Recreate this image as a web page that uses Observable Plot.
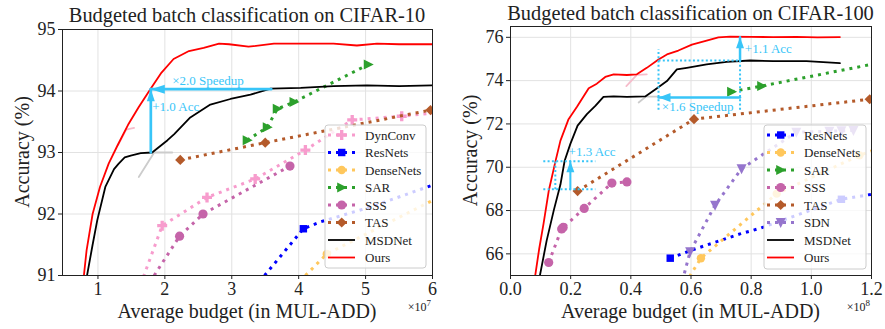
<!DOCTYPE html>
<html><head><meta charset="utf-8">
<script src="https://cdn.jsdelivr.net/npm/d3@7"></script>
<script src="https://cdn.jsdelivr.net/npm/@observablehq/plot@0.6"></script>
<style>
body{margin:0;background:#fff}
#wrap{display:flex;width:885px;height:329px;overflow:hidden}
svg{display:block}
</style></head><body><div id="wrap"></div>
<script>
// ---------------- CIFAR-10 (x in units of 1e7 MUL-ADD) ----------------
const c10Title = "Budgeted batch classification on CIFAR-10";
const c10XTicks = [1, 2, 3, 4, 5, 6];
const c10YTicks = [91, 92, 93, 94, 95];
const c10Legend = ["DynConv", "ResNets", "DenseNets", "SAR", "SSS", "TAS", "MSDNet", "Ours"];
const c10Ours = [[0.78,90.9],[0.83,91.41],[0.92,92.0],[1.03,92.44],[1.16,92.82],[1.29,93.11],[1.45,93.45],[1.61,93.74],[1.79,94.04],[1.95,94.3],[2.13,94.52],[2.36,94.65],[2.58,94.70],[2.81,94.77],[2.96,94.76],[3.25,94.72],[3.63,94.77],[4.0,94.77],[4.52,94.77],[4.87,94.74],[5.17,94.77],[5.5,94.76],[6.0,94.76]];
const c10MSDNet = [[0.82,90.9],[0.92,91.5],[0.99,91.9],[1.11,92.44],[1.24,92.73],[1.31,92.82],[1.40,92.92],[1.49,92.95],[1.64,92.99],[1.81,93.0],[2.04,93.2],[2.14,93.30],[2.38,93.57],[2.68,93.78],[2.98,93.87],[3.28,93.94],[3.58,94.04],[4.03,94.05],[4.52,94.08],[5.02,94.09],[5.5,94.08],[6.0,94.09]];
const c10DynConvLine = [[1.68,90.98],[1.96,91.81],[2.63,92.27],[3.35,92.57],[4.10,93.04],[4.80,93.53],[5.54,93.59],[6.0,93.64]];
const c10DynConvPts = [[1.96,91.81],[2.63,92.27],[3.35,92.57],[4.10,93.04],[4.80,93.53],[5.54,93.59]];
const c10ResNetsLine = [[3.49,91.0],[4.07,91.76],[4.32,91.87],[5.12,92.13],[6.0,92.47]];
const c10ResNetsPts = [[4.07,91.76]];
const c10DenseNetsLine = [[4.1,91.0],[4.42,91.35],[6.0,92.22]];
const c10DenseNetsPts = [[4.42,91.35]];
const c10SAR = [[3.23,93.20],[3.53,93.41],[3.68,93.71],[3.93,93.82],[5.04,94.43]];
const c10SSSLine = [[1.84,91.0],[2.22,91.64],[2.57,92.0],[3.87,92.78]];
const c10SSSPts = [[2.22,91.64],[2.57,92.0],[3.87,92.78]];
const c10TAS = [[2.23,92.88],[3.50,93.16],[5.97,93.69]];
const c10GrayMark = [[1.61,92.6],[1.84,93.0],[2.11,93.0]];
const c10PinkMark = [[1.30,93.12],[1.42,93.37],[1.54,93.40]];
const c10SpeedArrow = [[3.59,94.03],[1.79,94.03]];
const c10AccArrow = [[1.79,93.0],[1.79,94.03]];
const c10Notes = [{x: 2.11, y: 94.16, t: "×2.0 Speedup"}, {x: 1.81, y: 93.75, t: "+1.0 Acc"}];

// ---------------- CIFAR-100 (x in units of 1e8 MUL-ADD) ----------------
const c100Title = "Budgeted batch classification on CIFAR-100";
const c100XTicks = [0.0, 0.2, 0.4, 0.6, 0.8, 1.0, 1.2];
const c100YTicks = [66, 68, 70, 72, 74, 76];
const c100Legend = ["ResNets", "DenseNets", "SAR", "SSS", "TAS", "SDN", "MSDNet", "Ours"];
const c100Ours = [[0.08,64.8],[0.095,66.2],[0.11,67.41],[0.127,68.9],[0.149,70.25],[0.166,71.23],[0.193,72.22],[0.221,72.79],[0.26,73.65],[0.287,73.86],[0.315,74.17],[0.343,74.29],[0.387,74.26],[0.42,74.29],[0.453,74.59],[0.492,74.98],[0.52,75.21],[0.558,75.39],[0.603,75.66],[0.652,75.85],[0.691,76.0],[0.73,76.03],[0.8,76.02],[0.873,76.01],[0.95,76.02],[1.02,76.0],[1.095,76.01]];
const c100MSDNet = [[0.095,64.8],[0.12,66.6],[0.144,68.02],[0.166,69.2],[0.18,70.3],[0.199,71.08],[0.223,71.92],[0.254,72.45],[0.282,72.83],[0.309,73.25],[0.343,73.27],[0.387,73.25],[0.448,73.27],[0.487,73.65],[0.52,73.98],[0.553,74.52],[0.586,74.59],[0.652,74.75],[0.719,74.87],[0.796,74.93],[0.873,74.9],[0.984,74.9],[1.095,74.81]];
const c100ResNetsLine = [[0.531,65.8],[0.608,66.2],[0.763,66.92],[0.829,67.18],[1.1,68.52],[1.2,68.75]];
const c100ResNetsPts = [[0.531,65.8],[1.1,68.52]];
const c100DenseNetsLine = [[0.595,64.95],[0.633,65.8],[0.885,68.78],[1.16,70.55],[1.2,70.75]];
const c100DenseNetsPts = [[0.633,65.8],[0.885,68.78],[1.16,70.55]];
const c100SARLine = [[0.735,73.49],[0.835,73.75],[1.2,74.75]];
const c100SARPts = [[0.735,73.49],[0.835,73.75]];
const c100SSS = [[0.127,65.6],[0.17,67.15],[0.175,67.22],[0.245,68.1],[0.337,69.27],[0.387,69.32]];
const c100TAS = [[0.223,68.9],[0.61,72.22],[1.194,73.14]];
const c100SDNLine = [[0.578,65.1],[0.597,66.1],[0.68,68.25],[0.768,69.93],[0.95,71.62],[1.06,71.66],[1.1,71.68],[1.14,71.7]];
const c100SDNPts = [[0.597,66.1],[0.68,68.25],[0.768,69.93],[0.95,71.62],[1.06,71.66],[1.1,71.68],[1.14,71.7]];
const c100PinkMark = [[0.385,73.75],[0.42,74.27],[0.453,74.29]];
const c100GrayMark = [[0.426,72.99],[0.45,73.26],[0.487,73.26]];
const c100DotLines = [
  [[0.492,72.65],[0.492,75.45]],
  [[0.492,74.93],[0.763,74.93]],
  [[0.763,72.65],[0.763,74.93]],
  [[0.109,70.28],[0.282,70.28]],
  [[0.109,68.98],[0.282,68.98]],
  [[0.149,68.98],[0.149,70.28]]
];
const c100AccArrow = [[0.763,74.93],[0.763,76.0]];
const c100SpeedArrow = [[0.763,73.22],[0.492,73.22]];
const c100Acc2Arrow = [[0.199,68.98],[0.199,70.28]];
const c100Notes = [{x: 0.779, y: 75.46, t: "+1.1 Acc"}, {x: 0.503, y: 72.79, t: "×1.6 Speedup"}, {x: 0.193, y: 70.69, t: "+1.3 Acc"}];

// ---------------- styles ----------------
const FONT = "'Liberation Serif', 'DejaVu Serif', serif";
const CYAN = "#38c5f8";
function tri(dir) {
  return {draw(ctx, size) {
    const r = Math.sqrt(size / Math.PI);
    if (dir === "right") { ctx.moveTo(r * 1.1, 0); ctx.lineTo(-r * 0.9, -r); ctx.lineTo(-r * 0.9, r); }
    else { ctx.moveTo(0, r * 1.1); ctx.lineTo(-r, -r * 0.9); ctx.lineTo(r, -r * 0.9); }
    ctx.closePath();
  }};
}
function head(dir, len, half) {
  return {draw(ctx) {
    if (dir === "left") { ctx.moveTo(0, 0); ctx.lineTo(len, -half); ctx.lineTo(len, half); }
    else { ctx.moveTo(0, 0); ctx.lineTo(-half, len); ctx.lineTo(half, len); }
    ctx.closePath();
  }};
}
const STY = {
  DynConv: {color: "#f79ccd", symbol: d3.symbolCross, r: 4.2},
  ResNets: {color: "#0000ff", symbol: d3.symbolSquare, r: 4.2},
  DenseNets: {color: "#ffc75c", symbol: d3.symbolCircle, r: 4.2},
  SAR: {color: "#2ca02c", symbol: tri("right"), r: 5},
  SSS: {color: "#c564a9", symbol: d3.symbolCircle, r: 4.6},
  TAS: {color: "#b45a2a", symbol: d3.symbolDiamond2, r: 4.6},
  SDN: {color: "#9575cd", symbol: tri("down"), r: 5},
  MSDNet: {color: "#000000", solid: true},
  Ours: {color: "#ff0000", solid: true}
};
const X = d => d[0], Y = d => d[1];
function series(name, line, pts) {
  const s = STY[name];
  return [
    Plot.line(line, {x: X, y: Y, stroke: s.color, strokeWidth: 3, strokeDasharray: "3,5", strokeLinecap: "butt", clip: true}),
    Plot.dot(pts, {x: X, y: Y, r: s.r, symbol: s.symbol, fill: s.color, stroke: "none", clip: true})
  ];
}
function curve(name, data) {
  return Plot.line(data, {x: X, y: Y, stroke: STY[name].color, strokeWidth: 1.8, clip: true});
}
function stray(data, color) {
  return Plot.line(data, {x: X, y: Y, stroke: color, strokeWidth: 1.8, clip: true});
}
function arrow(data, dir, len, half, w) {
  return [
    Plot.line(data, {x: X, y: Y, stroke: CYAN, strokeWidth: w}),
    Plot.dot([data[data.length - 1]], {x: X, y: Y, symbol: head(dir, len, half), fill: CYAN, stroke: "none", r: 3})
  ];
}
function dotLine(data) {
  return Plot.line(data, {x: X, y: Y, stroke: CYAN, strokeWidth: 2, strokeDasharray: "2,2.3", strokeLinecap: "butt"});
}
function notes(data) {
  return Plot.text(data, {x: "x", y: "y", text: "t", fill: CYAN, fontSize: 13, textAnchor: "start", fontFamily: FONT});
}
function base(o) {
  return [
    Plot.gridX(o.xTicks, {stroke: "#e2e2e2", strokeOpacity: 1, strokeWidth: 1}),
    Plot.gridY(o.yTicks, {stroke: "#e2e2e2", strokeOpacity: 1, strokeWidth: 1}),
    Plot.axisX({ticks: o.xTicks, tickFormat: o.xFormat, tickSize: 4, tickPadding: 3, fontSize: 18, label: null, stroke: "#222", fill: "#222"}),
    Plot.axisY({ticks: o.yTicks, tickFormat: d3.format("d"), tickSize: 4, tickPadding: 3, fontSize: 18, label: null, stroke: "#222", fill: "#222"})
  ];
}
function decorate(svg, o) {
  const s = d3.select(svg);
  const cx = o.ml + (o.w - o.ml - o.mr) / 2;
  const cy = (o.mt + (329 - o.mb)) / 2;
  s.append("text").attr("x", cx).attr("y", o.titleY).attr("text-anchor", "middle").attr("font-size", 20.4).attr("fill", "#222").text(o.title);
  s.append("text").attr("x", cx).attr("y", 318).attr("text-anchor", "middle").attr("font-size", 20).attr("fill", "#222").text("Average budget (in MUL-ADD)");
  s.append("text").attr("transform", `translate(${o.ml - 33},${cy}) rotate(-90)`).attr("text-anchor", "middle").attr("font-size", 20).attr("fill", "#222").text("Accuracy (%)");
  const t = s.append("text").attr("x", o.w - o.mr - 1).attr("y", 311).attr("text-anchor", "end").attr("font-size", 12).attr("fill", "#222");
  t.append("tspan").text("×10");
  t.append("tspan").attr("dy", -5).attr("font-size", 9).text(o.exp);
  // legend
  const L = o.legendBox;
  const g = s.append("g");
  g.append("rect").attr("x", L[0]).attr("y", L[1]).attr("width", L[2]).attr("height", L[3]).attr("rx", 3)
    .attr("fill", "white").attr("fill-opacity", 0.8).attr("stroke", "#cccccc").attr("stroke-width", 1);
  o.legend.forEach((name, i) => {
    const st = STY[name];
    const y = L[1] + 10 + i * 17.5;
    const ln = g.append("line").attr("x1", L[0] + 3).attr("x2", L[0] + 30).attr("y1", y).attr("y2", y).attr("stroke", st.color);
    if (st.solid) ln.attr("stroke-width", 1.8);
    else {
      ln.attr("stroke-width", 3).attr("stroke-dasharray", "3,5");
      g.append("path").attr("transform", `translate(${L[0] + 16.7},${y})`)
        .attr("d", d3.symbol(st.symbol, Math.PI * st.r * st.r)()).attr("fill", st.color);
    }
    g.append("text").attr("x", L[0] + 40).attr("y", y).attr("dy", "0.35em").attr("text-anchor", "start")
      .attr("font-size", 13).attr("fill", "#222").text(name);
  });
}

// ---------------- left panel ----------------
const L1 = {w: 442, ml: 62, mr: 10, mt: 29, mb: 54};
const left = Plot.plot({
  width: L1.w, height: 329, marginLeft: L1.ml, marginRight: L1.mr, marginTop: L1.mt, marginBottom: L1.mb,
  style: {fontFamily: FONT, fontSize: "18px", background: "white", color: "#222"},
  x: {domain: [0.47, 6]},
  y: {domain: [91, 95]},
  marks: [
    ...base({xTicks: c10XTicks, yTicks: c10YTicks, xFormat: d3.format("d")}),
    stray(c10GrayMark, "#cccccc"),
    stray(c10PinkMark, "#f6bccb"),
    ...series("DynConv", c10DynConvLine, c10DynConvPts),
    ...series("ResNets", c10ResNetsLine, c10ResNetsPts),
    ...series("DenseNets", c10DenseNetsLine, c10DenseNetsPts),
    ...series("SAR", c10SAR, c10SAR),
    ...series("SSS", c10SSSLine, c10SSSPts),
    ...series("TAS", c10TAS, c10TAS),
    curve("MSDNet", c10MSDNet),
    curve("Ours", c10Ours),
    ...arrow(c10SpeedArrow, "left", 14, 4.5, 2.7),
    ...arrow(c10AccArrow, "up", 12, 4, 2.7),
    notes(c10Notes),
    Plot.frame({stroke: "#222", strokeWidth: 1})
  ]
});
decorate(left, {...L1, title: c10Title, titleY: 21.5, exp: "7", legend: c10Legend, legendBox: [325, 125, 101, 143]});

// ---------------- right panel ----------------
const R1 = {w: 443, ml: 68, mr: 14, mt: 26, mb: 54};
const right = Plot.plot({
  width: R1.w, height: 329, marginLeft: R1.ml, marginRight: R1.mr, marginTop: R1.mt, marginBottom: R1.mb,
  style: {fontFamily: FONT, fontSize: "18px", background: "white", color: "#222"},
  x: {domain: [0, 1.2]},
  y: {domain: [65, 76.5]},
  marks: [
    ...base({xTicks: c100XTicks, yTicks: c100YTicks, xFormat: d3.format(".1f")}),
    stray(c100GrayMark, "#cccccc"),
    stray(c100PinkMark, "#f6bccb"),
    ...series("ResNets", c100ResNetsLine, c100ResNetsPts),
    ...series("DenseNets", c100DenseNetsLine, c100DenseNetsPts),
    ...series("SAR", c100SARLine, c100SARPts),
    ...series("SSS", c100SSS, c100SSS),
    ...series("TAS", c100TAS, c100TAS),
    ...series("SDN", c100SDNLine, c100SDNPts),
    curve("MSDNet", c100MSDNet),
    curve("Ours", c100Ours),
    ...c100DotLines.map(dotLine),
    ...arrow(c100AccArrow, "up", 11, 4, 2.5),
    ...arrow(c100SpeedArrow, "left", 12, 4.5, 2.5),
    ...arrow(c100Acc2Arrow, "up", 11, 4, 2),
    notes(c100Notes),
    Plot.frame({stroke: "#222", strokeWidth: 1})
  ]
});
decorate(right, {...R1, title: c100Title, titleY: 20, exp: "8", legend: c100Legend, legendBox: [322, 125, 102, 144]});

document.getElementById("wrap").append(left, right);
</script></body></html>
